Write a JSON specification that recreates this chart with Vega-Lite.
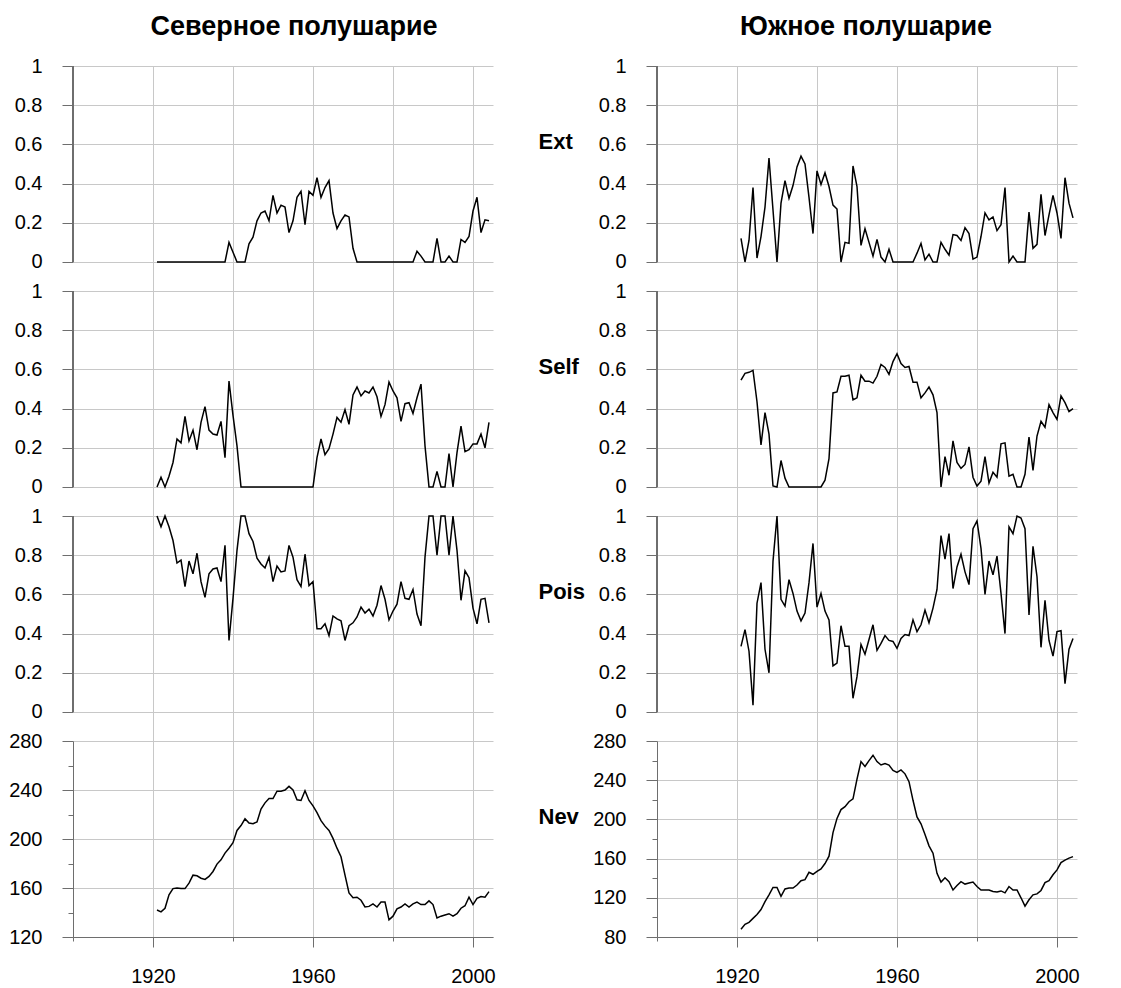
{
  "$schema": "https://vega.github.io/schema/vega-lite/v6.json",
  "background": "white",
  "autosize": {"type": "pad"},
  "padding": {"left": 8, "top": 13, "right": 10, "bottom": 5},
  "config": {"font": "Liberation Sans", "view": {"stroke": null}},
  "datasets": {
    "d": [
      {"year":1921,"nE":0,"sE":0.12,"nS":0,"sS":0.545,"nP":1,"sP":0.335,"nN":142,"sN":88},
      {"year":1922,"nE":0,"sE":0,"nS":0.05,"sS":0.58,"nP":0.945,"sP":0.42,"nN":140.5,"sN":93},
      {"year":1923,"nE":0,"sE":0.11,"nS":0,"sS":0.585,"nP":1,"sP":0.31,"nN":143.5,"sN":95},
      {"year":1924,"nE":0,"sE":0.38,"nS":0.055,"sS":0.595,"nP":0.945,"sP":0.035,"nN":154.5,"sN":99},
      {"year":1925,"nE":0,"sE":0.02,"nS":0.125,"sS":0.435,"nP":0.875,"sP":0.555,"nN":159.5,"sN":103},
      {"year":1926,"nE":0,"sE":0.13,"nS":0.245,"sS":0.215,"nP":0.76,"sP":0.66,"nN":160,"sN":108},
      {"year":1927,"nE":0,"sE":0.28,"nS":0.225,"sS":0.38,"nP":0.775,"sP":0.32,"nN":159.5,"sN":116},
      {"year":1928,"nE":0,"sE":0.53,"nS":0.36,"sS":0.27,"nP":0.64,"sP":0.2,"nN":159.5,"sN":123},
      {"year":1929,"nE":0,"sE":0.265,"nS":0.235,"sS":0.005,"nP":0.77,"sP":0.77,"nN":164,"sN":130.5},
      {"year":1930,"nE":0,"sE":0,"nS":0.29,"sS":0,"nP":0.705,"sP":1,"nN":170.5,"sN":130.5},
      {"year":1931,"nE":0,"sE":0.3,"nS":0.19,"sS":0.135,"nP":0.81,"sP":0.575,"nN":170,"sN":121.5},
      {"year":1932,"nE":0,"sE":0.415,"nS":0.33,"sS":0.045,"nP":0.665,"sP":0.54,"nN":168,"sN":129},
      {"year":1933,"nE":0,"sE":0.325,"nS":0.41,"sS":0,"nP":0.585,"sP":0.675,"nN":167,"sN":130},
      {"year":1934,"nE":0,"sE":0.39,"nS":0.29,"sS":0,"nP":0.705,"sP":0.605,"nN":169.5,"sN":130},
      {"year":1935,"nE":0,"sE":0.485,"nS":0.27,"sS":0,"nP":0.73,"sP":0.515,"nN":173.5,"sN":133},
      {"year":1936,"nE":0,"sE":0.54,"nS":0.265,"sS":0,"nP":0.735,"sP":0.465,"nN":179.5,"sN":137.5},
      {"year":1937,"nE":0,"sE":0.5,"nS":0.335,"sS":0,"nP":0.665,"sP":0.505,"nN":183,"sN":138.5},
      {"year":1938,"nE":0,"sE":0.33,"nS":0.15,"sS":0,"nP":0.85,"sP":0.66,"nN":188.5,"sN":146},
      {"year":1939,"nE":0.1,"sE":0.145,"nS":0.54,"sS":0,"nP":0.365,"sP":0.86,"nN":192.5,"sN":144},
      {"year":1940,"nE":0.05,"sE":0.465,"nS":0.365,"sS":0,"nP":0.58,"sP":0.535,"nN":197,"sN":147},
      {"year":1941,"nE":0,"sE":0.395,"nS":0.21,"sS":0,"nP":0.825,"sP":0.605,"nN":207,"sN":149.5},
      {"year":1942,"nE":0,"sE":0.455,"nS":0,"sS":0.035,"nP":1,"sP":0.515,"nN":211,"sN":155},
      {"year":1943,"nE":0,"sE":0.385,"nS":0,"sS":0.145,"nP":1,"sP":0.47,"nN":216.5,"sN":162.5},
      {"year":1944,"nE":0.093,"sE":0.29,"nS":0,"sS":0.48,"nP":0.91,"sP":0.235,"nN":213,"sN":186.5},
      {"year":1945,"nE":0.127,"sE":0.27,"nS":0,"sS":0.485,"nP":0.87,"sP":0.25,"nN":212.5,"sN":201},
      {"year":1946,"nE":0.21,"sE":0,"nS":0,"sS":0.565,"nP":0.785,"sP":0.44,"nN":214,"sN":210},
      {"year":1947,"nE":0.25,"sE":0.1,"nS":0,"sS":0.565,"nP":0.755,"sP":0.335,"nN":224.5,"sN":213},
      {"year":1948,"nE":0.26,"sE":0.095,"nS":0,"sS":0.57,"nP":0.735,"sP":0.335,"nN":229.5,"sN":218},
      {"year":1949,"nE":0.21,"sE":0.49,"nS":0,"sS":0.445,"nP":0.79,"sP":0.07,"nN":233,"sN":221},
      {"year":1950,"nE":0.34,"sE":0.385,"nS":0,"sS":0.455,"nP":0.665,"sP":0.18,"nN":233,"sN":241},
      {"year":1951,"nE":0.25,"sE":0.085,"nS":0,"sS":0.57,"nP":0.745,"sP":0.345,"nN":239,"sN":259},
      {"year":1952,"nE":0.29,"sE":0.17,"nS":0,"sS":0.54,"nP":0.715,"sP":0.295,"nN":239,"sN":254},
      {"year":1953,"nE":0.28,"sE":0.1,"nS":0,"sS":0.54,"nP":0.72,"sP":0.37,"nN":240,"sN":260},
      {"year":1954,"nE":0.15,"sE":0.03,"nS":0,"sS":0.53,"nP":0.85,"sP":0.445,"nN":243,"sN":265.5},
      {"year":1955,"nE":0.21,"sE":0.115,"nS":0,"sS":0.565,"nP":0.79,"sP":0.315,"nN":240,"sN":259},
      {"year":1956,"nE":0.33,"sE":0.025,"nS":0,"sS":0.625,"nP":0.675,"sP":0.35,"nN":232,"sN":255.5},
      {"year":1957,"nE":0.36,"sE":0,"nS":0,"sS":0.61,"nP":0.64,"sP":0.39,"nN":231.5,"sN":257},
      {"year":1958,"nE":0.19,"sE":0.065,"nS":0,"sS":0.575,"nP":0.805,"sP":0.365,"nN":239.5,"sN":255.5},
      {"year":1959,"nE":0.36,"sE":0,"nS":0,"sS":0.64,"nP":0.645,"sP":0.36,"nN":231.5,"sN":250},
      {"year":1960,"nE":0.34,"sE":0,"nS":0,"sS":0.68,"nP":0.665,"sP":0.325,"nN":227,"sN":248},
      {"year":1961,"nE":0.43,"sE":0,"nS":0.15,"sS":0.63,"nP":0.425,"sP":0.375,"nN":221.5,"sN":250.5},
      {"year":1962,"nE":0.33,"sE":0,"nS":0.245,"sS":0.61,"nP":0.425,"sP":0.395,"nN":215,"sN":246.5},
      {"year":1963,"nE":0.38,"sE":0,"nS":0.165,"sS":0.615,"nP":0.45,"sP":0.39,"nN":210.5,"sN":238.5},
      {"year":1964,"nE":0.415,"sE":0,"nS":0.195,"sS":0.535,"nP":0.39,"sP":0.47,"nN":207,"sN":219.5},
      {"year":1965,"nE":0.25,"sE":0.045,"nS":0.27,"sS":0.535,"nP":0.49,"sP":0.41,"nN":200.5,"sN":202.5},
      {"year":1966,"nE":0.17,"sE":0.095,"nS":0.355,"sS":0.455,"nP":0.475,"sP":0.445,"nN":192.5,"sN":195.5},
      {"year":1967,"nE":0.21,"sE":0.01,"nS":0.33,"sS":0.48,"nP":0.465,"sP":0.52,"nN":185.5,"sN":184.5},
      {"year":1968,"nE":0.24,"sE":0.04,"nS":0.395,"sS":0.51,"nP":0.365,"sP":0.455,"nN":170.5,"sN":173},
      {"year":1969,"nE":0.23,"sE":0,"nS":0.32,"sS":0.47,"nP":0.44,"sP":0.53,"nN":156,"sN":165.5},
      {"year":1970,"nE":0.07,"sE":0,"nS":0.47,"sS":0.38,"nP":0.455,"sP":0.625,"nN":152,"sN":145},
      {"year":1971,"nE":0,"sE":0.1,"nS":0.51,"sS":0,"nP":0.485,"sP":0.9,"nN":152.5,"sN":136},
      {"year":1972,"nE":0,"sE":0.065,"nS":0.465,"sS":0.155,"nP":0.535,"sP":0.78,"nN":150,"sN":140.5},
      {"year":1973,"nE":0,"sE":0.035,"nS":0.49,"sS":0.06,"nP":0.505,"sP":0.91,"nN":144.5,"sN":136.5},
      {"year":1974,"nE":0,"sE":0.14,"nS":0.48,"sS":0.235,"nP":0.525,"sP":0.63,"nN":145,"sN":128},
      {"year":1975,"nE":0,"sE":0.135,"nS":0.51,"sS":0.125,"nP":0.49,"sP":0.74,"nN":147,"sN":132.5},
      {"year":1976,"nE":0,"sE":0.11,"nS":0.46,"sS":0.095,"nP":0.545,"sP":0.805,"nN":144.5,"sN":136.5},
      {"year":1977,"nE":0,"sE":0.175,"nS":0.36,"sS":0.115,"nP":0.645,"sP":0.715,"nN":148.5,"sN":134},
      {"year":1978,"nE":0,"sE":0.145,"nS":0.42,"sS":0.205,"nP":0.575,"sP":0.65,"nN":148.5,"sN":135},
      {"year":1979,"nE":0,"sE":0.015,"nS":0.535,"sS":0.05,"nP":0.47,"sP":0.935,"nN":134,"sN":136},
      {"year":1980,"nE":0,"sE":0.025,"nS":0.49,"sS":0.005,"nP":0.515,"sP":0.975,"nN":137,"sN":131.5},
      {"year":1981,"nE":0,"sE":0.13,"nS":0.455,"sS":0.03,"nP":0.55,"sP":0.835,"nN":143,"sN":128},
      {"year":1982,"nE":0,"sE":0.25,"nS":0.335,"sS":0.155,"nP":0.665,"sP":0.6,"nN":144.5,"sN":128},
      {"year":1983,"nE":0,"sE":0.215,"nS":0.425,"sS":0.02,"nP":0.58,"sP":0.77,"nN":147,"sN":128},
      {"year":1984,"nE":0,"sE":0.23,"nS":0.43,"sS":0.075,"nP":0.575,"sP":0.7,"nN":144.5,"sN":126.5},
      {"year":1985,"nE":0,"sE":0.16,"nS":0.375,"sS":0.05,"nP":0.625,"sP":0.795,"nN":147,"sN":126},
      {"year":1986,"nE":0.055,"sE":0.19,"nS":0.455,"sS":0.22,"nP":0.5,"sP":0.605,"nN":148.5,"sN":127},
      {"year":1987,"nE":0.03,"sE":0.38,"nS":0.525,"sS":0.225,"nP":0.44,"sP":0.4,"nN":146.5,"sN":125},
      {"year":1988,"nE":0,"sE":0,"nS":0.21,"sS":0.055,"nP":0.79,"sP":0.945,"nN":146.5,"sN":131.5},
      {"year":1989,"nE":0,"sE":0.03,"nS":0,"sS":0.065,"nP":1,"sP":0.91,"nN":149.5,"sN":128},
      {"year":1990,"nE":0,"sE":0,"nS":0,"sS":0,"nP":1,"sP":1,"nN":146.5,"sN":128},
      {"year":1991,"nE":0.12,"sE":0,"nS":0.08,"sS":0,"nP":0.8,"sP":0.99,"nN":135.5,"sN":120},
      {"year":1992,"nE":0,"sE":0,"nS":0,"sS":0.065,"nP":1,"sP":0.935,"nN":137,"sN":111.5},
      {"year":1993,"nE":0,"sE":0.255,"nS":0,"sS":0.255,"nP":1,"sP":0.495,"nN":138,"sN":118},
      {"year":1994,"nE":0.03,"sE":0.07,"nS":0.17,"sS":0.085,"nP":0.8,"sP":0.845,"nN":139,"sN":123},
      {"year":1995,"nE":0,"sE":0.09,"nS":0,"sS":0.26,"nP":1,"sP":0.69,"nN":137,"sN":124},
      {"year":1996,"nE":0,"sE":0.345,"nS":0.175,"sS":0.335,"nP":0.825,"sP":0.33,"nN":139,"sN":127.5},
      {"year":1997,"nE":0.115,"sE":0.135,"nS":0.31,"sS":0.305,"nP":0.57,"sP":0.57,"nN":143.5,"sN":135.5},
      {"year":1998,"nE":0.1,"sE":0.24,"nS":0.18,"sS":0.42,"nP":0.72,"sP":0.365,"nN":145.5,"sN":137.5},
      {"year":1999,"nE":0.13,"sE":0.34,"nS":0.19,"sS":0.38,"nP":0.685,"sP":0.285,"nN":152.5,"sN":143.5},
      {"year":2000,"nE":0.26,"sE":0.25,"nS":0.22,"sS":0.345,"nP":0.53,"sP":0.41,"nN":146.5,"sN":148.5},
      {"year":2001,"nE":0.33,"sE":0.12,"nS":0.22,"sS":0.465,"nP":0.45,"sP":0.415,"nN":151.5,"sN":156},
      {"year":2002,"nE":0.15,"sE":0.43,"nS":0.27,"sS":0.43,"nP":0.575,"sP":0.145,"nN":153,"sN":158.5},
      {"year":2003,"nE":0.215,"sE":0.3,"nS":0.2,"sS":0.385,"nP":0.58,"sP":0.32,"nN":152.5,"sN":160.5},
      {"year":2004,"nE":0.21,"sE":0.225,"nS":0.33,"sS":0.4,"nP":0.455,"sP":0.375,"nN":157,"sN":162}
    ]
  },
  "hconcat": [
    {
      "title": {"text": "Северное полушарие", "fontSize": 27, "fontWeight": "bold", "anchor": "start", "align": "center", "dx": 221, "frame": "group", "offset": 15, "color": "#000"},
      "spacing": 0,
      "bounds": "flush",
      "vconcat": [
        {
          "data": {"name": "d"}, "width": 420, "height": 225,
          "layer": [
            {"mark": {"type": "line", "color": "#000", "strokeWidth": 1.5},
             "encoding": {
               "x": {"field": "year", "type": "quantitative", "scale": {"domain": [1900, 2005], "nice": false, "zero": false},
                     "axis": {"values": [1920, 1940, 1960, 1980, 2000], "labels": false, "ticks": false, "domain": false, "gridColor": "#c8c8c8", "title": null}},
               "y": {"field": "nE", "type": "quantitative", "scale": {"domain": [-0.148, 1], "nice": false, "zero": false},
                     "axis": {"values": [0, 0.1, 0.2, 0.3, 0.4, 0.5, 0.6, 0.7, 0.8, 0.9, 1], "labelExpr": "round(datum.value*10)%2==0 ? format(datum.value,'~g') : ''", "domain": false, "tickColor": "#6e6e6e", "tickSize": {"condition": {"test": "round(datum.value*10)%2==0", "value": 11}, "value": 5}, "gridColor": "#c8c8c8", "gridOpacity": {"condition": {"test": "round(datum.value*10)%2==0", "value": 1}, "value": 0}, "labelFontSize": 20, "labelPadding": 20, "labelColor": "#000", "title": null}}
             }},
            {"mark": {"type": "rule", "color": "#6e6e6e"},
             "encoding": {"x": {"datum": 1900, "type": "quantitative"}, "y": {"datum": 0, "type": "quantitative"}, "y2": {"datum": 1}}}
          ]
        },
        {
          "data": {"name": "d"}, "width": 420, "height": 225,
          "layer": [
            {"mark": {"type": "line", "color": "#000", "strokeWidth": 1.5},
             "encoding": {
               "x": {"field": "year", "type": "quantitative", "scale": {"domain": [1900, 2005], "nice": false, "zero": false},
                     "axis": {"values": [1920, 1940, 1960, 1980, 2000], "labels": false, "ticks": false, "domain": false, "gridColor": "#c8c8c8", "title": null}},
               "y": {"field": "nS", "type": "quantitative", "scale": {"domain": [-0.148, 1], "nice": false, "zero": false},
                     "axis": {"values": [0, 0.1, 0.2, 0.3, 0.4, 0.5, 0.6, 0.7, 0.8, 0.9, 1], "labelExpr": "round(datum.value*10)%2==0 ? format(datum.value,'~g') : ''", "domain": false, "tickColor": "#6e6e6e", "tickSize": {"condition": {"test": "round(datum.value*10)%2==0", "value": 11}, "value": 5}, "gridColor": "#c8c8c8", "gridOpacity": {"condition": {"test": "round(datum.value*10)%2==0", "value": 1}, "value": 0}, "labelFontSize": 20, "labelPadding": 20, "labelColor": "#000", "title": null}}
             }},
            {"mark": {"type": "rule", "color": "#6e6e6e"},
             "encoding": {"x": {"datum": 1900, "type": "quantitative"}, "y": {"datum": 0, "type": "quantitative"}, "y2": {"datum": 1}}}
          ]
        },
        {
          "data": {"name": "d"}, "width": 420, "height": 225,
          "layer": [
            {"mark": {"type": "line", "color": "#000", "strokeWidth": 1.5},
             "encoding": {
               "x": {"field": "year", "type": "quantitative", "scale": {"domain": [1900, 2005], "nice": false, "zero": false},
                     "axis": {"values": [1920, 1940, 1960, 1980, 2000], "labels": false, "ticks": false, "domain": false, "gridColor": "#c8c8c8", "title": null}},
               "y": {"field": "nP", "type": "quantitative", "scale": {"domain": [-0.148, 1], "nice": false, "zero": false},
                     "axis": {"values": [0, 0.1, 0.2, 0.3, 0.4, 0.5, 0.6, 0.7, 0.8, 0.9, 1], "labelExpr": "round(datum.value*10)%2==0 ? format(datum.value,'~g') : ''", "domain": false, "tickColor": "#6e6e6e", "tickSize": {"condition": {"test": "round(datum.value*10)%2==0", "value": 11}, "value": 5}, "gridColor": "#c8c8c8", "gridOpacity": {"condition": {"test": "round(datum.value*10)%2==0", "value": 1}, "value": 0}, "labelFontSize": 20, "labelPadding": 20, "labelColor": "#000", "title": null}}
             }},
            {"mark": {"type": "rule", "color": "#6e6e6e"},
             "encoding": {"x": {"datum": 1900, "type": "quantitative"}, "y": {"datum": 0, "type": "quantitative"}, "y2": {"datum": 1}}}
          ]
        },
        {
          "data": {"name": "d"}, "width": 420, "height": 196,
          "mark": {"type": "line", "color": "#000", "strokeWidth": 1.5},
          "encoding": {
            "x": {"field": "year", "type": "quantitative", "scale": {"domain": [1900, 2005], "nice": false, "zero": false},
                  "axis": {"values": [1900, 1920, 1940, 1960, 1980, 2000], "format": "d", "labelExpr": "(datum.value-1920)%40==0 ? datum.label : ''", "domainColor": "#6e6e6e", "tickColor": "#6e6e6e", "tickSize": {"condition": {"test": "(datum.value-1920)%40==0", "value": 10}, "value": 4}, "gridColor": "#c8c8c8", "gridOpacity": {"condition": {"test": "datum.value==1900", "value": 0}, "value": 1}, "labelFontSize": 20, "labelPadding": 19, "labelFlush": false, "labelColor": "#000", "title": null}},
            "y": {"field": "nN", "type": "quantitative", "scale": {"domain": [120, 280], "nice": false, "zero": false},
                  "axis": {"values": [120, 140, 160, 180, 200, 220, 240, 260, 280], "labelExpr": "datum.value%40==0 ? datum.label : ''", "domainColor": "#6e6e6e", "tickColor": "#6e6e6e", "tickSize": {"condition": {"test": "datum.value%40==0", "value": 11}, "value": 5}, "gridColor": "#c8c8c8", "gridOpacity": {"condition": {"test": "datum.value%40==0", "value": 1}, "value": 0}, "labelFontSize": 20, "labelPadding": 20, "labelColor": "#000", "title": null}}
          }
        }
      ]
    },
    {
      "title": {"text": "Южное полушарие", "fontSize": 27, "fontWeight": "bold", "anchor": "start", "align": "center", "dx": 209, "frame": "group", "offset": 15, "color": "#000"},
      "spacing": 0,
      "bounds": "flush",
      "vconcat": [
        {
          "data": {"name": "d"}, "width": 420, "height": 225,
          "layer": [
            {"mark": {"type": "line", "color": "#000", "strokeWidth": 1.5},
             "encoding": {
               "x": {"field": "year", "type": "quantitative", "scale": {"domain": [1900, 2005], "nice": false, "zero": false},
                     "axis": {"values": [1920, 1940, 1960, 1980, 2000], "labels": false, "ticks": false, "domain": false, "gridColor": "#c8c8c8", "title": null}},
               "y": {"field": "sE", "type": "quantitative", "scale": {"domain": [-0.148, 1], "nice": false, "zero": false},
                     "axis": {"values": [0, 0.1, 0.2, 0.3, 0.4, 0.5, 0.6, 0.7, 0.8, 0.9, 1], "labelExpr": "round(datum.value*10)%2==0 ? format(datum.value,'~g') : ''", "domain": false, "tickColor": "#6e6e6e", "tickSize": {"condition": {"test": "round(datum.value*10)%2==0", "value": 11}, "value": 5}, "gridColor": "#c8c8c8", "gridOpacity": {"condition": {"test": "round(datum.value*10)%2==0", "value": 1}, "value": 0}, "labelFontSize": 20, "labelPadding": 20, "labelColor": "#000",
                               "title": "Ext", "titleAngle": 0, "titleAlign": "left", "titleBaseline": "middle", "titleX": -119, "titleY": 75, "titleFontSize": 22, "titleFontWeight": "bold", "titleColor": "#000"}}
             }},
            {"mark": {"type": "rule", "color": "#6e6e6e"},
             "encoding": {"x": {"datum": 1900, "type": "quantitative"}, "y": {"datum": 0, "type": "quantitative"}, "y2": {"datum": 1}}}
          ]
        },
        {
          "data": {"name": "d"}, "width": 420, "height": 225,
          "layer": [
            {"mark": {"type": "line", "color": "#000", "strokeWidth": 1.5},
             "encoding": {
               "x": {"field": "year", "type": "quantitative", "scale": {"domain": [1900, 2005], "nice": false, "zero": false},
                     "axis": {"values": [1920, 1940, 1960, 1980, 2000], "labels": false, "ticks": false, "domain": false, "gridColor": "#c8c8c8", "title": null}},
               "y": {"field": "sS", "type": "quantitative", "scale": {"domain": [-0.148, 1], "nice": false, "zero": false},
                     "axis": {"values": [0, 0.1, 0.2, 0.3, 0.4, 0.5, 0.6, 0.7, 0.8, 0.9, 1], "labelExpr": "round(datum.value*10)%2==0 ? format(datum.value,'~g') : ''", "domain": false, "tickColor": "#6e6e6e", "tickSize": {"condition": {"test": "round(datum.value*10)%2==0", "value": 11}, "value": 5}, "gridColor": "#c8c8c8", "gridOpacity": {"condition": {"test": "round(datum.value*10)%2==0", "value": 1}, "value": 0}, "labelFontSize": 20, "labelPadding": 20, "labelColor": "#000",
                               "title": "Self", "titleAngle": 0, "titleAlign": "left", "titleBaseline": "middle", "titleX": -119, "titleY": 75, "titleFontSize": 22, "titleFontWeight": "bold", "titleColor": "#000"}}
             }},
            {"mark": {"type": "rule", "color": "#6e6e6e"},
             "encoding": {"x": {"datum": 1900, "type": "quantitative"}, "y": {"datum": 0, "type": "quantitative"}, "y2": {"datum": 1}}}
          ]
        },
        {
          "data": {"name": "d"}, "width": 420, "height": 225,
          "layer": [
            {"mark": {"type": "line", "color": "#000", "strokeWidth": 1.5},
             "encoding": {
               "x": {"field": "year", "type": "quantitative", "scale": {"domain": [1900, 2005], "nice": false, "zero": false},
                     "axis": {"values": [1920, 1940, 1960, 1980, 2000], "labels": false, "ticks": false, "domain": false, "gridColor": "#c8c8c8", "title": null}},
               "y": {"field": "sP", "type": "quantitative", "scale": {"domain": [-0.148, 1], "nice": false, "zero": false},
                     "axis": {"values": [0, 0.1, 0.2, 0.3, 0.4, 0.5, 0.6, 0.7, 0.8, 0.9, 1], "labelExpr": "round(datum.value*10)%2==0 ? format(datum.value,'~g') : ''", "domain": false, "tickColor": "#6e6e6e", "tickSize": {"condition": {"test": "round(datum.value*10)%2==0", "value": 11}, "value": 5}, "gridColor": "#c8c8c8", "gridOpacity": {"condition": {"test": "round(datum.value*10)%2==0", "value": 1}, "value": 0}, "labelFontSize": 20, "labelPadding": 20, "labelColor": "#000",
                               "title": "Pois", "titleAngle": 0, "titleAlign": "left", "titleBaseline": "middle", "titleX": -119, "titleY": 75, "titleFontSize": 22, "titleFontWeight": "bold", "titleColor": "#000"}}
             }},
            {"mark": {"type": "rule", "color": "#6e6e6e"},
             "encoding": {"x": {"datum": 1900, "type": "quantitative"}, "y": {"datum": 0, "type": "quantitative"}, "y2": {"datum": 1}}}
          ]
        },
        {
          "data": {"name": "d"}, "width": 420, "height": 196,
          "mark": {"type": "line", "color": "#000", "strokeWidth": 1.5},
          "encoding": {
            "x": {"field": "year", "type": "quantitative", "scale": {"domain": [1900, 2005], "nice": false, "zero": false},
                  "axis": {"values": [1900, 1920, 1940, 1960, 1980, 2000], "format": "d", "labelExpr": "(datum.value-1920)%40==0 ? datum.label : ''", "domainColor": "#6e6e6e", "tickColor": "#6e6e6e", "tickSize": {"condition": {"test": "(datum.value-1920)%40==0", "value": 10}, "value": 4}, "gridColor": "#c8c8c8", "gridOpacity": {"condition": {"test": "datum.value==1900", "value": 0}, "value": 1}, "labelFontSize": 20, "labelPadding": 19, "labelFlush": false, "labelColor": "#000", "title": null}},
            "y": {"field": "sN", "type": "quantitative", "scale": {"domain": [80, 280], "nice": false, "zero": false},
                  "axis": {"values": [80, 100, 120, 140, 160, 180, 200, 220, 240, 260, 280], "labelExpr": "datum.value%40==0 ? datum.label : ''", "domainColor": "#6e6e6e", "tickColor": "#6e6e6e", "tickSize": {"condition": {"test": "datum.value%40==0", "value": 11}, "value": 5}, "gridColor": "#c8c8c8", "gridOpacity": {"condition": {"test": "datum.value%40==0", "value": 1}, "value": 0}, "labelFontSize": 20, "labelPadding": 20, "labelColor": "#000",
                            "title": "Nev", "titleAngle": 0, "titleAlign": "left", "titleBaseline": "middle", "titleX": -119, "titleY": 75, "titleFontSize": 22, "titleFontWeight": "bold", "titleColor": "#000"}}
          }
        }
      ]
    }
  ],
  "spacing": 42
}
